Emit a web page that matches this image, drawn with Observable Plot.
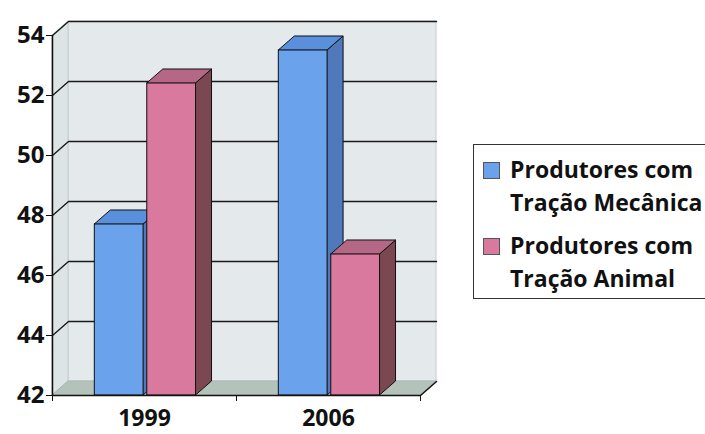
<!DOCTYPE html>
<html>
<head>
<meta charset="utf-8">
<script src="https://cdn.jsdelivr.net/npm/d3@7"></script>
<script src="https://cdn.jsdelivr.net/npm/@observablehq/plot@0.6"></script>
<style>
  html, body { margin: 0; padding: 0; background: #fff; }
  #wrap { position: relative; width: 705px; height: 434px; overflow: hidden; font-family: "Open Sans", Lato, sans-serif; }
  #legend { position: absolute; left: 473px; top: 144px; width: 260px; height: 155px; border: 1.5px solid #333; box-sizing: border-box; }
  .item { position: absolute; left: 0; font-weight: bold; font-size: 23px; line-height: 33px; color: #111; white-space: nowrap; }
  .sw { position: absolute; left: 9px; top: 9px; width: 15px; height: 15px; border: 1px solid #555; }
  .txt { position: absolute; left: 36px; top: 0; }
</style>
</head>
<body>
<div id="wrap"><div id="chart"></div><div id="legend"></div></div>
<script>
const categories = ["1999", "2006"];
const seriesNames = ["Produtores com Tração Mecânica", "Produtores com Tração Animal"];
const legendLines = [["Produtores com", "Tração Mecânica"], ["Produtores com", "Tração Animal"]];
const mecanica = [47.7, 53.5];
const animal = [52.4, 46.7];
const yTicks = [42, 44, 46, 48, 50, 52, 54];

const frontColors = ["#6aa2ec", "#d8799d"];
const topColors = ["#5a8fdc", "#b56886"];
const sideColors = ["#4f79bb", "#7b4851"];

const yBase = 42, yTop = 54;
const DX = 0.087, DY = 0.467;   // depth offset (data units)
const seriesValues = [mecanica, animal];

const bars = [];
categories.forEach((c, i) => {
  seriesValues.forEach((vals, s) => {
    const xl = i + 0.23 + s * 0.285;
    bars.push({key: c + "-" + s, cat: c, s, value: vals[i], xl, xr: xl + 0.265});
  });
});

const sides = bars.flatMap(b => [
  {key: b.key, s: b.s, x: b.xr, y1: yBase, y2: b.value},
  {key: b.key, s: b.s, x: b.xr + DX, y1: yBase + DY, y2: b.value + DY}
]);
const tops = bars.flatMap(b => [
  {key: b.key, s: b.s, y: b.value, x1: b.xl, x2: b.xr},
  {key: b.key, s: b.s, y: b.value + DY, x1: b.xl + DX, x2: b.xr + DX}
]);
const grid = yTicks.filter(t => t > yBase).flatMap(t => [
  {t, x: 0, y: t}, {t, x: DX, y: t + DY}, {t, x: 2 + DX, y: t + DY}
]);
const leftWall = [{x: 0, y1: yBase, y2: yTop}, {x: DX, y1: yBase + DY, y2: yTop + DY}];
const floor = [{y: yBase, x1: 0, x2: 2}, {y: yBase + DY, x1: DX, x2: 2 + DX}];
const floorEdge = [{x: 2, y: yBase}, {x: 2 + DX, y: yBase + DY}];

const chart = Plot.plot({
  width: 705, height: 434,
  marginLeft: 52, marginRight: 285, marginTop: 35, marginBottom: 39,
  x: {domain: [0, 2], axis: null},
  y: {domain: [yBase, yTop], axis: null},
  color: {type: "identity"},
  style: {fontFamily: "'Open Sans', Lato, sans-serif", color: "#111", background: "transparent"},
  marks: [
    Plot.rect([0], {x1: () => DX, x2: () => 2 + DX, y1: () => yBase + DY, y2: () => yTop + DY, fill: "#e4eaec", stroke: "#c4cccf", strokeWidth: 1}),
    Plot.areaY(leftWall, {x: "x", y1: "y1", y2: "y2", fill: "#dce4e6", stroke: "#c4cccf", strokeWidth: 1}),
    Plot.areaX(floor, {y: "y", x1: "x1", x2: "x2", fill: "#b3c2bb", stroke: "#a9b7b1", strokeWidth: 1}),
    Plot.line(grid, {x: "x", y: "y", z: "t", stroke: "#1a1a1a", strokeWidth: 1.4}),
    Plot.areaY(sides, {x: "x", y1: "y1", y2: "y2", z: "key", fill: d => sideColors[d.s], stroke: "#111", strokeWidth: 1}),
    Plot.areaX(tops, {y: "y", x1: "x1", x2: "x2", z: "key", fill: d => topColors[d.s], stroke: "#111", strokeWidth: 1}),
    Plot.rect(bars, {x1: "xl", x2: "xr", y1: () => yBase, y2: "value", fill: d => frontColors[d.s], stroke: "#111", strokeWidth: 1}),
    Plot.line(floorEdge, {x: "x", y: "y", stroke: "#111", strokeWidth: 1.5}),
    Plot.ruleX([0], {stroke: "#111", strokeWidth: 1.5}),
    Plot.ruleY([yBase], {stroke: "#111", strokeWidth: 1.5}),
    Plot.axisY({ticks: yTicks, tickSize: 6, tickPadding: 2, fontSize: 24, fontWeight: "bold", label: null, stroke: "#111"}),
    Plot.axisX({ticks: [0, 1, 2], tickSize: 6, tickFormat: () => "", label: null, stroke: "#111"}),
    Plot.axisX({ticks: [0.5, 1.5], tickSize: 0, tickPadding: 14, tickFormat: d => categories[Math.floor(d)], fontSize: 23, fontWeight: "bold", label: null})
  ]
});
document.getElementById("chart").appendChild(chart);

const legend = document.getElementById("legend");
const itemTops = [8, 84];
legendLines.forEach((lines, s) => {
  const item = document.createElement("div");
  item.className = "item";
  item.style.top = itemTops[s] + "px";
  item.title = seriesNames[s];
  const sw = document.createElement("div");
  sw.className = "sw";
  sw.style.background = frontColors[s];
  const txt = document.createElement("div");
  txt.className = "txt";
  txt.innerHTML = lines.join("<br>");
  item.appendChild(sw);
  item.appendChild(txt);
  legend.appendChild(item);
});
</script>
</body>
</html>
